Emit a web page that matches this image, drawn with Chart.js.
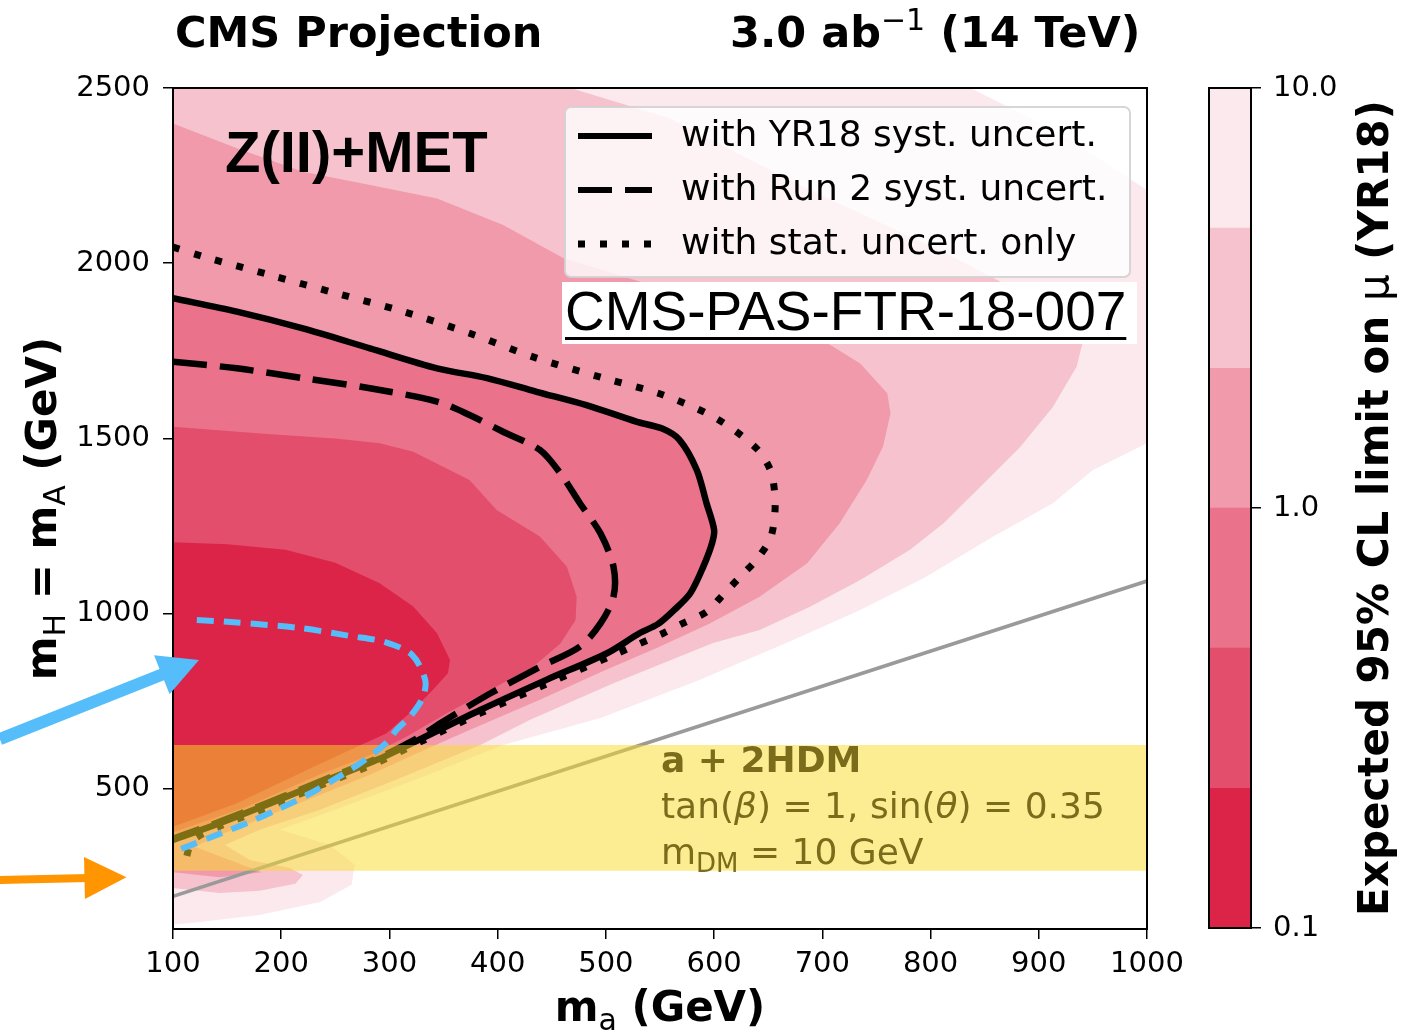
<!DOCTYPE html>
<html>
<head>
<meta charset="utf-8">
<script src="https://cdn.jsdelivr.net/npm/chart.js@4.4.0/dist/chart.umd.min.js"></script>
<style>
  body { margin: 0; background: #fff; }
  #wrap { position: relative; width: 1419px; height: 1033px; }
  #main { position: absolute; left: 0; top: 0; }
  #cbar { position: absolute; left: 1150px; top: 0; }
</style>
</head>
<body>
<div id="wrap">
  <canvas id="main" width="1419" height="1033"></canvas>
  <canvas id="cbar" width="269" height="1033"></canvas>
</div>
<script>
// axis ticks
const xTicks = [100, 200, 300, 400, 500, 600, 700, 800, 900, 1000];
const yTicks = [500, 1000, 1500, 2000, 2500];

// colour bar (expected limit on mu)
const cbLevels = [0.1, 0.215, 0.464, 1.0, 2.15, 4.64, 10.0];
const cbColors = ['#dc2449', '#e34e6c', '#ea728a', '#f09aab', '#f5c2cd', '#fbe9ed'];
const cbTickValues = [0.1, 1, 10];
const cbTickLabels = ['0.1', '1.0', '10.0'];

// filled contour regions, points are [m_a, m_H] in GeV
const regionLt10 = [[100,2550],[805,2550],[917,2375],[1050,2109],[1050,1562],[950,1410],[913,1315],[858,1220],[796,1105],[735,1010],[673,925],[587,811],[495,702],[405,625],[328,531],[254,445],[199,383],[245,340],[268,283],[265,226],[236,177],[180,140],[125,120],[100,112]];
const regionLt4p64 = [[100,2550],[414,2550],[559,2414],[679,2223],[818,2023],[944,1818],[935,1705],[913,1590],[883,1476],[843,1353],[812,1258],[781,1182],[735,1096],[689,1020],[642,953],[599,916],[507,801],[430,697],[384,625],[310,531],[236,440],[180,383],[148,340],[171,297],[208,274],[220,254],[213,229],[180,209],[143,203],[100,217]];
const regionLt2p15 = [[100,2399],[159,2328],[220,2261],[282,2223],[344,2185],[405,2109],[461,2014],[587,1895],[707,1767],[735,1714],[760,1629],[763,1572],[756,1476],[741,1381],[716,1258],[686,1144],[642,1048],[596,972],[550,906],[495,833],[439,754],[374,668],[328,605],[282,540],[236,483],[190,426],[143,368],[120,335],[150,300],[182,262],[143,248],[100,262]];
const regionLt0p464 = [[100,1533],[190,1512],[250,1500],[291,1486],[322,1462],[374,1381],[399,1296],[439,1220],[464,1134],[473,1048],[472,982],[458,915],[433,849],[393,782],[353,716],[316,649],[285,600],[235,540],[165,445],[100,376]];
const regionLt0p215 = [[100,1204],[150,1198],[204,1182],[250,1145],[291,1087],[322,1020],[344,944],[356,868],[354,830],[340,782],[322,725],[297,658],[270,620],[230,563],[159,459],[100,392]];

// mu = 1 contours
const limitYR18 = [[100,1900],[159,1862],[220,1814],[282,1757],[344,1700],[390,1672],[436,1633],[482,1595],[528,1548],[552,1528],[568,1496],[584,1410],[593,1315],[600,1239],[598,1200],[590,1134],[578,1058],[563,1010],[548,970],[531,944],[501,887],[445,811],[384,725],[330,644],[288,582],[242,525],[190,459],[143,402],[100,354]];
const limitRun2 = [[100,1719],[159,1700],[220,1672],[282,1643],[344,1605],[374,1567],[405,1519],[439,1467],[458,1400],[476,1315],[495,1229],[507,1134],[507,1048],[495,972],[476,906],[439,848],[393,772],[347,687],[326,645],[288,586],[242,529],[190,463],[143,406],[100,358]];
const limitStat = [[100,2046],[128,2019],[190,1966],[251,1914],[313,1862],[374,1800],[436,1729],[498,1672],[553,1624],[602,1557],[639,1472],[652,1410],[656,1343],[656,1281],[652,1215],[639,1153],[624,1105],[608,1053],[593,1005],[571,972],[553,944],[507,882],[445,799],[384,716],[331,638],[288,574],[242,517],[190,450],[143,393],[118,352],[112,300]];
const limitOther = [[122,982],[153,976],[217,959],[264,936],[296,919],[321,882],[333,811],[331,762],[319,706],[307,670],[297,631],[273,573],[248,525],[224,482],[196,440],[168,402],[140,368],[113,335],[100,321]];

// m_H = m_a + m_Z line and the benchmark band
const kinLine = [[100,193],[1000,1093]];
const bandRange = [266, 625];

// arrows (tail, tip) in [m_a, m_H]
const blueArrow = [[-60,642],[124,868]];
const orangeArrow = [[-60,240],[57,248]];

const legendLabels = ['with YR18 syst. uncert.', 'with Run 2 syst. uncert.', 'with stat. uncert. only'];

Chart.defaults.font.family = '"DejaVu Sans"';
Chart.defaults.color = '#000';

const pts = arr => arr.map(p => ({x: p[0], y: p[1]}));

function regionSet(arr, color, order) {
  return {data: pts(arr), showLine: true, fill: 'shape', backgroundColor: color,
    borderColor: 'rgba(0,0,0,0)', borderWidth: 0, pointRadius: 0, pointHoverRadius: 0, tension: 0, order: order};
}
function lineSet(arr, color, width, dash, order) {
  return {data: pts(arr), showLine: true, fill: false, borderColor: color, borderWidth: width,
    borderDash: dash, borderCapStyle: 'butt', borderJoinStyle: 'round', pointRadius: 0, pointHoverRadius: 0,
    tension: 0.3, order: order};
}

function drawRich(ctx, parts, x, y, align) {
  let w = 0;
  parts.forEach(p => { ctx.font = p.font; w += ctx.measureText(p.t).width; });
  let cx = align === 'center' ? x - w / 2 : x;
  ctx.textAlign = 'left';
  ctx.textBaseline = 'alphabetic';
  parts.forEach(p => {
    ctx.font = p.font;
    ctx.fillText(p.t, cx, y + (p.dy || 0));
    cx += ctx.measureText(p.t).width;
  });
}

function drawArrow(ctx, sx, sy, arr, color, shaft, headLen, headHalf) {
  const x0 = sx.getPixelForValue(arr[0][0]), y0 = sy.getPixelForValue(arr[0][1]);
  const x1 = sx.getPixelForValue(arr[1][0]), y1 = sy.getPixelForValue(arr[1][1]);
  const len = Math.hypot(x1 - x0, y1 - y0), ux = (x1 - x0) / len, uy = (y1 - y0) / len;
  const bx = x1 - ux * headLen, by = y1 - uy * headLen;
  ctx.strokeStyle = color; ctx.fillStyle = color;
  ctx.lineWidth = shaft; ctx.lineCap = 'butt';
  ctx.beginPath(); ctx.moveTo(x0, y0); ctx.lineTo(bx + ux * 4, by + uy * 4); ctx.stroke();
  ctx.beginPath();
  ctx.moveTo(x1, y1);
  ctx.lineTo(bx - uy * headHalf, by + ux * headHalf);
  ctx.lineTo(bx + uy * headHalf, by - ux * headHalf);
  ctx.closePath(); ctx.fill();
}

const B42 = 'bold 42px "DejaVu Sans"';
const B43 = 'bold 43px "DejaVu Sans"';
const R36 = '36px "DejaVu Sans"';
const I36 = 'italic 36px "DejaVu Sans"';

const mainDecor = {
  id: 'mainDecor',
  afterDraw(chart) {
    const ctx = chart.ctx, a = chart.chartArea, sx = chart.scales.x, sy = chart.scales.y;
    ctx.save();
    // plot frame
    ctx.strokeStyle = '#000'; ctx.lineWidth = 2;
    ctx.strokeRect(a.left, a.top, a.right - a.left, a.bottom - a.top);

    // benchmark text inside the yellow band
    ctx.fillStyle = '#7b6c1b';
    drawRich(ctx, [{t: 'a + 2HDM', font: 'bold 36px "DejaVu Sans"'}], 661, 772);
    drawRich(ctx, [{t: 'tan(', font: R36}, {t: 'β', font: I36}, {t: ') = 1, sin(', font: R36},
      {t: 'θ', font: I36}, {t: ') = 0.35', font: R36}], 661, 818);
    drawRich(ctx, [{t: 'm', font: R36}, {t: 'DM', font: '26px "DejaVu Sans"', dy: 8},
      {t: ' = 10 GeV', font: R36}], 661, 864);

    // channel label
    ctx.fillStyle = '#000';
    ctx.font = 'bold 58px "Liberation Sans"';
    ctx.textAlign = 'left'; ctx.textBaseline = 'alphabetic';
    ctx.fillText('Z(II)+MET', 225, 172);

    // legend
    ctx.beginPath();
    ctx.roundRect(565, 107, 565, 170, 6);
    ctx.fillStyle = 'rgba(255,255,255,0.8)'; ctx.fill();
    ctx.strokeStyle = 'rgba(210,210,210,0.9)'; ctx.lineWidth = 2; ctx.stroke();
    const styles = [[], [34, 13], [7, 15]];
    const widths = [6, 6, 7];
    legendLabels.forEach((lab, i) => {
      const y = 136 + i * 54;
      ctx.strokeStyle = '#000'; ctx.lineWidth = widths[i]; ctx.lineCap = 'butt';
      ctx.setLineDash(styles[i]);
      ctx.beginPath(); ctx.moveTo(578, y); ctx.lineTo(652, y); ctx.stroke();
      ctx.setLineDash([]);
      ctx.fillStyle = '#000'; ctx.font = R36; ctx.textBaseline = 'middle';
      ctx.fillText(lab, 681, y + 1);
    });

    // reference tag
    ctx.fillStyle = '#fff';
    ctx.fillRect(562, 282, 575, 62);
    ctx.fillStyle = '#000';
    ctx.font = '55px "Liberation Sans"';
    ctx.textBaseline = 'alphabetic';
    ctx.fillText('CMS-PAS-FTR-18-007', 565, 330);
    const tw = ctx.measureText('CMS-PAS-FTR-18-007').width;
    ctx.fillRect(565, 337, tw, 3);

    // arrows
    drawArrow(ctx, sx, sy, blueArrow, '#55bdf9', 12, 40, 21);
    drawArrow(ctx, sx, sy, orangeArrow, '#ff9500', 8, 42, 21);

    // header
    ctx.fillStyle = '#000';
    drawRich(ctx, [{t: 'CMS Projection', font: B43}], 175, 47);
    drawRich(ctx, [{t: '3.0 ab', font: B43}, {t: '\u22121', font: '30px "DejaVu Sans"', dy: -17},
      {t: ' (14 TeV)', font: B43}], 730, 47);

    // axis titles
    drawRich(ctx, [{t: 'm', font: B42}, {t: 'a', font: '30px "DejaVu Sans"', dy: 9},
      {t: ' (GeV)', font: B42}], (a.left + a.right) / 2, 1021, 'center');
    ctx.save();
    ctx.translate(56, (a.top + a.bottom) / 2);
    ctx.rotate(-Math.PI / 2);
    drawRich(ctx, [{t: 'm', font: B42}, {t: 'H', font: '30px "DejaVu Sans"', dy: 9},
      {t: ' = m', font: B42}, {t: 'A', font: '30px "DejaVu Sans"', dy: 9},
      {t: ' (GeV)', font: B42}], 0, 0, 'center');
    ctx.restore();
    ctx.restore();
  }
};

new Chart(document.getElementById('main'), {
  type: 'scatter',
  data: {
    datasets: [
      regionSet(regionLt10, cbColors[5], 20),
      regionSet(regionLt4p64, cbColors[4], 19),
      regionSet(regionLt2p15, cbColors[3], 18),
      regionSet(limitYR18, cbColors[2], 17),
      regionSet(regionLt0p464, cbColors[1], 16),
      regionSet(regionLt0p215, cbColors[0], 15),
      lineSet(limitStat, '#000', 7, [7, 15], 14),
      lineSet(limitRun2, '#000', 6.5, [34, 13], 13),
      lineSet(limitYR18, '#000', 6.5, [], 12),
      lineSet(kinLine, '#9a9a9a', 3.5, [], 11),
      {data: pts([[100, bandRange[1]], [1000, bandRange[1]]]), showLine: true,
        fill: {value: bandRange[0]}, backgroundColor: 'rgba(250,220,40,0.5)',
        borderColor: 'rgba(0,0,0,0)', borderWidth: 0, pointRadius: 0, order: 10},
      lineSet(limitOther, '#55bdf9', 6, [17, 10], 9)
    ]
  },
  options: {
    responsive: false,
    animation: false,
    devicePixelRatio: 1,
    layout: {padding: {left: 0, right: 272, top: 88, bottom: 0}},
    plugins: {legend: {display: false}, tooltip: {enabled: false}},
    scales: {
      x: {
        type: 'linear', min: 100, max: 1000,
        afterFit: s => { s.height = 104; },
        afterBuildTicks: s => { s.ticks = xTicks.map(v => ({value: v})); },
        ticks: {font: {size: 29}, color: '#000', padding: 8, maxRotation: 0, autoSkip: false,
          callback: v => String(v)},
        grid: {drawOnChartArea: false, drawTicks: true, tickLength: 10, color: '#000', lineWidth: 1.5},
        border: {display: true, color: '#000', width: 2}
      },
      y: {
        type: 'linear', min: 100, max: 2500,
        afterFit: s => { s.width = 173; },
        afterBuildTicks: s => { s.ticks = yTicks.map(v => ({value: v})); },
        ticks: {font: {size: 29}, color: '#000', padding: 13, autoSkip: false,
          callback: v => String(v)},
        grid: {drawOnChartArea: false, drawTicks: true, tickLength: 10, color: '#000', lineWidth: 1.5},
        border: {display: true, color: '#000', width: 2}
      }
    }
  },
  plugins: [mainDecor]
});

// colour bar
const cbDecor = {
  id: 'cbDecor',
  afterDraw(chart) {
    const ctx = chart.ctx, a = chart.chartArea;
    ctx.save();
    ctx.strokeStyle = '#000'; ctx.lineWidth = 2;
    ctx.strokeRect(a.left, a.top, a.right - a.left, a.bottom - a.top);
    ctx.fillStyle = '#000';
    ctx.translate(238, (a.top + a.bottom) / 2);
    ctx.rotate(-Math.PI / 2);
    drawRich(ctx, [{t: 'Expected 95% CL limit on ', font: B42}, {t: 'μ', font: '42px "DejaVu Sans"'},
      {t: ' (YR18)', font: B42}], 0, 0, 'center');
    ctx.restore();
  }
};

new Chart(document.getElementById('cbar'), {
  type: 'bar',
  data: {
    labels: ['mu'],
    datasets: cbColors.map((c, i) => ({
      data: [[cbLevels[i], cbLevels[i + 1]]],
      backgroundColor: c, borderWidth: 0,
      barPercentage: 1, categoryPercentage: 1, grouped: false
    }))
  },
  options: {
    responsive: false,
    animation: false,
    devicePixelRatio: 1,
    layout: {padding: {left: 59, right: 48, top: 88, bottom: 105}},
    plugins: {legend: {display: false}, tooltip: {enabled: false}},
    scales: {
      x: {display: false},
      y: {
        type: 'logarithmic', position: 'right', min: 0.1, max: 10,
        afterFit: s => { s.width = 120; },
        afterBuildTicks: s => { s.ticks = cbTickValues.map(v => ({value: v})); },
        ticks: {font: {size: 29}, color: '#000', padding: 12, callback: (v, i) => cbTickLabels[i]},
        grid: {drawOnChartArea: false, drawTicks: true, tickLength: 10, color: '#000', lineWidth: 1.5},
        border: {display: true, color: '#000', width: 2}
      }
    }
  },
  plugins: [cbDecor]
});
</script>
</body>
</html>
